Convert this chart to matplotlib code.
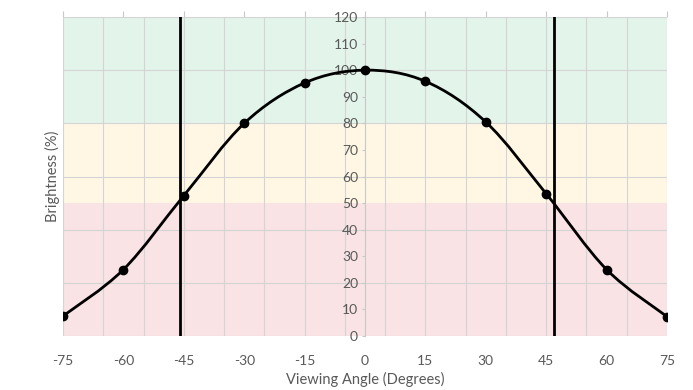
import matplotlib
matplotlib.use('Agg')
import matplotlib.pyplot as plt
from matplotlib.path import Path
from matplotlib.patches import PathPatch
import numpy as np

# measured viewing angle brightness
angles = [-75, -60, -45, -30, -15, 0, 15, 30, 45, 60, 75]
brightness = [7.5, 25, 52.8, 80, 95.2, 100, 95.8, 80.5, 53.5, 25, 7.3]
cutoffs = [-46, 47]  # 50% brightness angles

# background zones (low, high, colour)
zones = [(0, 50, '#f9e3e4'), (50, 80, '#fff7e4'), (80, 120, '#e3f4ea')]

xticks = list(range(-75, 76, 15))
vgrid = list(range(-75, 76, 10))
yticks = list(range(0, 121, 10))
hgrid = list(range(0, 121, 20))

TXT = '#595959'
GRID = '#d4d4d4'

plt.rcParams['font.family'] = ['Lato', 'DejaVu Sans']

fig = plt.figure(figsize=(6.93, 3.90), dpi=100)
ax = fig.add_axes([63 / 693, 54 / 390, 604 / 693, 319 / 390])

for lo, hi, col in zones:
    ax.axhspan(lo, hi, color=col, zorder=0, lw=0)
for g in vgrid:
    ax.axvline(g, color=GRID, lw=0.8, zorder=1)
for g in hgrid:
    ax.axhline(g, color=GRID, lw=0.8, zorder=1)

# smoothed line like excel (catmull-rom style bezier)
pts = np.column_stack([angles, brightness])
verts = [tuple(pts[0])]
codes = [Path.MOVETO]
n = len(pts)
for i in range(n - 1):
    p0 = pts[max(i - 1, 0)]
    p1 = pts[i]
    p2 = pts[i + 1]
    p3 = pts[min(i + 2, n - 1)]
    c1 = p1 + (p2 - p0) / 6.0
    c2 = p2 - (p3 - p1) / 6.0
    verts += [tuple(c1), tuple(c2), tuple(p2)]
    codes += [Path.CURVE4] * 3
ax.add_patch(PathPatch(Path(verts, codes), facecolor='none', edgecolor='black', lw=2, zorder=3))
ax.plot(angles, brightness, 'o', color='black', ms=6, zorder=4)

for c in cutoffs:
    ax.axvline(c, color='black', lw=2, zorder=5)

ax.set_xlim(-75, 75)
ax.set_ylim(0, 120)

# y axis sits at zero angle
for s in ['top', 'right', 'bottom']:
    ax.spines[s].set_visible(False)
ax.spines['left'].set_position(('data', 0))
ax.spines['left'].set_color('#c8c8c8')
ax.spines['left'].set_zorder(2)

ax.set_yticks(yticks)
ax.set_yticklabels([str(v) for v in yticks])
ax.tick_params(axis='y', length=2, width=0.8, color='#c8c8c8', labelsize=10,
               labelcolor=TXT, pad=3)
ax.set_xticks(xticks)
ax.set_xticklabels([str(v) for v in xticks])
ax.tick_params(axis='x', length=0, labelsize=10, labelcolor=TXT, pad=14)

# small ticks above the top edge
ax2 = ax.secondary_xaxis('top')
ax2.set_xticks(xticks)
ax2.set_xticklabels([])
ax2.tick_params(length=4, width=0.8, color='#c8c8c8', direction='out')
ax2.spines['top'].set_visible(False)

fig.text(365 / 693, 1 - 379 / 390, 'Viewing Angle (Degrees)', ha='center', va='center',
         fontsize=10.5, color=TXT)
fig.text(52 / 693, 1 - 176 / 390, 'Brightness (%)', ha='center', va='center',
         rotation=90, fontsize=10.5, color=TXT)

fig.savefig('out.png', dpi=100)
